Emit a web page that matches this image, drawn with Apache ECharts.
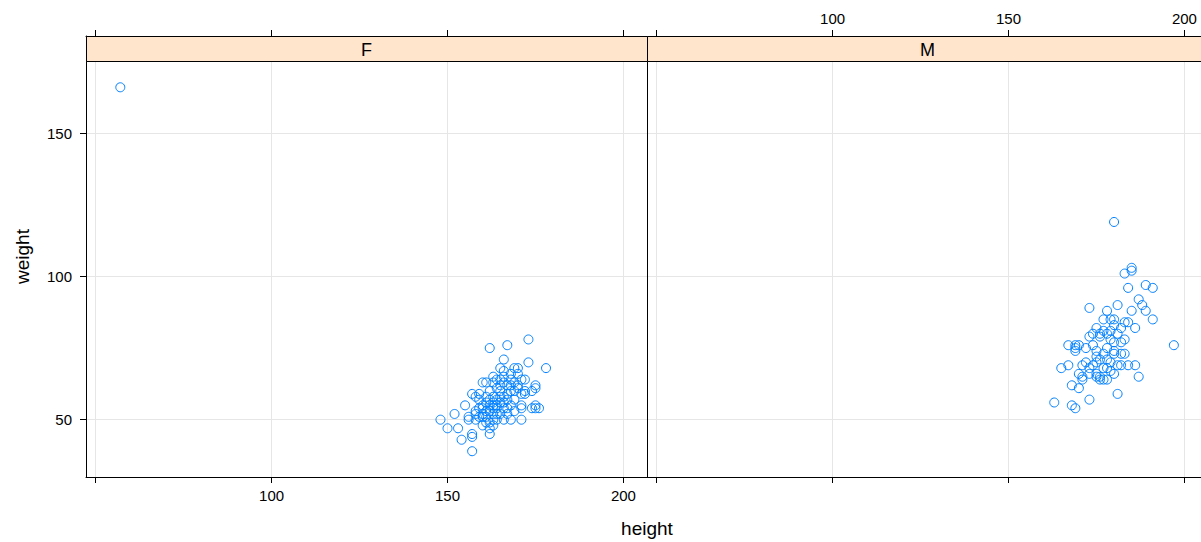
<!DOCTYPE html>
<html><head><meta charset="utf-8">
<script src="https://cdn.jsdelivr.net/npm/echarts@6/dist/echarts.min.js"></script>
<style>html,body{margin:0;padding:0;background:#fff}#c{width:1201px;height:542px}</style>
</head><body><div id="c"></div>
<script>
// ---- data (height, weight) ----
const panels = ['F', 'M'];
const femalePoints = [
  [57,166],
  [161,58],[161,53],[157,59],[161,51],[168,64],[163,52],[166,65],[168,62],[175,61],[170,61],
  [171,54],[166,50],[169,63],[166,58],[157,39],[166,71],[164,52],[169,68],[166,56],[164,54],
  [163,63],[160,54],[161,49],[174,54],[162,75],[165,56],[170,66],[165,68],[163,54],[160,51],
  [148,50],[150,47],[152,52],[153,47],[154,43],[155,55],[156,51],[157,44],[157,45],[158,53],
  [158,58],[159,51],[160,63],[167,76],[173,78],[178,68],[173,70],[175,62],[176,54],[175,55],
  [171,50],[168,50],[167,54],[171,55],[162,45],[162,47],[163,48],[170,68],[172,64],[171,64],
  [168,60],[167,59],[165,62],[164,61],[165,60],[166,63],[167,62],[169,60],[172,60],[172,59],
  [164,57],[163,56],[162,55],[161,56],[160,55],[159,57],[162,53],[163,50],[164,50],[165,52],
  [163,55],[164,55],[160,52],[159,54],[158,52],[163,58],[162,60],[165,58],[167,57],[168,55],
  [166,54],[161,63],[164,64],[166,67],[163,65],[170,62],[168,66],[169,57],[171,59],[174,60],
  [175,54],[156,50],[160,48],[162,57],[167,52],[165,64],[169,53],[158,50],[162,49],[159,59]
];
const malePoints = [
  [182,77],[177,68],[170,76],[167,76],[186,69],[178,71],[171,65],[175,70],[187,92],[197,76],
  [180,119],[175,65],[173,66],[183,101],[178,75],[173,79],[176,64],[174,69],[178,88],[187,65],
  [178,80],[183,78],[179,85],[180,73],[182,82],[169,74],[185,102],[177,64],[176,65],[183,73],
  [172,75],[173,57],[185,103],[189,97],[191,96],[184,96],[181,90],[188,90],[189,88],[185,88],
  [191,85],[184,84],[183,84],[180,83],[173,89],[177,85],[175,82],[177,81],[179,81],[174,80],
  [169,76],[169,75],[175,74],[180,74],[165,68],[167,69],[172,70],[170,66],[171,64],[175,66],
  [178,64],[179,67],[168,62],[170,61],[163,56],[168,55],[169,54],[181,59],[182,69],[181,69],
  [182,73],[180,77],[176,71],[177,73],[179,78],[181,80],[176,79],[174,76],[175,72],[179,70],
  [180,66],[178,68],[184,69],[186,82],[180,85],[176,80],[173,68],[171,69]
];
const xTickValues = [50, 100, 150, 200];
const xLabelValues = [100, 150, 200];
const yTickValues = [50, 100, 150];
const xTitle = 'height';
const yTitle = 'weight';

// ---- layout ----
const FONT = '"Liberation Sans", Arial, Helvetica, sans-serif';
const PL = [86, 647];      // panel left edges
const PW = 561;            // panel width
const PT = 36;             // panel top (incl. strip)
const PH = 441;            // panel height
const STRIP = 25;
const X_MIN = 47.25, X_MAX = 206.7, Y_MIN = 30, Y_MAX = 183.9;
const BLUE = '#0080ff';
const GRIDC = '#e6e6e6';

function xAx(gi, pos, showLabels, showSplit) {
  return {
    type: 'value', gridIndex: gi, position: pos, min: X_MIN, max: X_MAX,
    axisLine: { show: true, lineStyle: { color: '#000', width: 1 } },
    axisTick: { show: true, inside: false, length: 6, customValues: xTickValues, lineStyle: { color: '#000' } },
    axisLabel: { show: showLabels, customValues: xLabelValues, margin: pos === 'top' ? 10 : 11,
                 fontSize: 15, color: '#000', fontFamily: FONT },
    splitLine: { show: showSplit, lineStyle: { color: GRIDC, width: 1 } }
  };
}
function yAx(gi, visible) {
  return {
    type: 'value', gridIndex: gi, position: 'left', min: Y_MIN, max: Y_MAX,
    axisLine: { show: visible, lineStyle: { color: '#000' } },
    axisTick: { show: visible, inside: false, length: 6, customValues: yTickValues, lineStyle: { color: '#000' } },
    axisLabel: { show: visible, customValues: yTickValues, margin: 14, fontSize: 15, color: '#000', fontFamily: FONT },
    splitLine: { show: true, lineStyle: { color: GRIDC, width: 1 } }
  };
}

const graphics = [];
panels.forEach((p, i) => {
  graphics.push({
    type: 'rect', z: 100,
    shape: { x: PL[i] + 0.5, y: PT + 0.5, width: PW, height: STRIP },
    style: { fill: '#ffe5cc', stroke: '#000', lineWidth: 1 }
  });
  graphics.push({
    type: 'text', z: 101, x: PL[i] + PW / 2, y: PT + STRIP / 2 + 1,
    style: { text: p, fontSize: 18, fontFamily: FONT, fill: '#000', textAlign: 'center', textVerticalAlign: 'middle', align: 'center', verticalAlign: 'middle' }
  });
});
// divider between panels (right border of panel 1 / left border of panel 2)
graphics.push({
  type: 'line', z: 99,
  shape: { x1: PL[1] + 0.5, y1: PT, x2: PL[1] + 0.5, y2: PT + PH + 0.5 },
  style: { stroke: '#000', lineWidth: 1 }
});
graphics.push({
  type: 'text', z: 101, x: PL[1], y: 528,
  style: { text: xTitle, fontSize: 19, fontFamily: FONT, fill: '#000', align: 'center', verticalAlign: 'middle', textAlign: 'center', textVerticalAlign: 'middle' }
});
graphics.push({
  type: 'text', z: 101, x: 22, y: PT + PH / 2, rotation: Math.PI / 2,
  style: { text: yTitle, fontSize: 19, fontFamily: FONT, fill: '#000', align: 'center', verticalAlign: 'middle', textAlign: 'center', textVerticalAlign: 'middle' }
});

const option = {
  animation: false,
  backgroundColor: '#fff',
  grid: [
    { left: PL[0], top: PT, width: PW, height: PH, show: false, outerBoundsMode: 'none', containLabel: false },
    { left: PL[1], top: PT, width: PW, height: PH, show: false, outerBoundsMode: 'none', containLabel: false }
  ],
  xAxis: [
    xAx(0, 'bottom', true, true),
    xAx(0, 'top', false, false),
    xAx(1, 'bottom', false, true),
    xAx(1, 'top', true, false)
  ],
  yAxis: [yAx(0, true), yAx(1, false)],
  graphic: graphics,
  series: [
    { type: 'scatter', xAxisIndex: 0, yAxisIndex: 0, data: femalePoints, symbol: 'circle', symbolSize: 9,
      itemStyle: { color: 'rgba(0,0,0,0)', borderColor: BLUE, borderWidth: 1, opacity: 1 }, z: 5 },
    { type: 'scatter', xAxisIndex: 2, yAxisIndex: 1, data: malePoints, symbol: 'circle', symbolSize: 9,
      itemStyle: { color: 'rgba(0,0,0,0)', borderColor: BLUE, borderWidth: 1, opacity: 1 }, z: 5 }
  ]
};
const chart = echarts.init(document.getElementById('c'), null, { renderer: 'svg' });
chart.setOption(option);
</script>
</body></html>
